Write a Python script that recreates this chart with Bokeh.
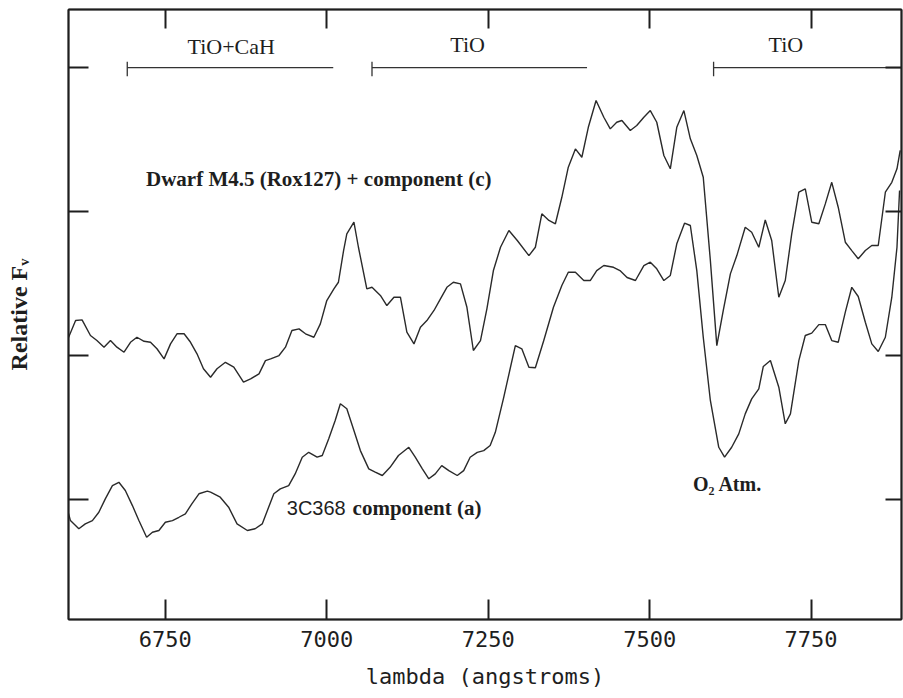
from bokeh.plotting import figure
from bokeh.models import LinearAxis, FixedTicker, Range1d, CustomLabelingPolicy
from bokeh.core.properties import value
from bokeh.embed import file_html
from bokeh.resources import INLINE

# ---- data (wavelength in angstroms, relative flux) ----
wl_c = [6600, 6611, 6621, 6634, 6644, 6655, 6665, 6675, 6686, 6696, 6706, 6717, 6727, 6737,
        6748, 6758, 6768, 6779, 6789, 6799, 6809, 6820, 6830, 6843, 6856, 6871, 6882, 6895,
        6905, 6913, 6926, 6936, 6946, 6957, 6967, 6980, 6990, 7000, 7011, 7018, 7026, 7031,
        7042, 7049, 7062, 7070, 7083, 7093, 7104, 7114, 7124, 7135, 7145, 7155, 7166, 7176,
        7186, 7196, 7207, 7217, 7227, 7238, 7248, 7258, 7269, 7282, 7295, 7313, 7323, 7333,
        7344, 7354, 7364, 7374, 7385, 7395, 7405, 7417, 7429, 7439, 7449, 7457, 7470, 7480,
        7491, 7501, 7511, 7522, 7532, 7542, 7553, 7563, 7573, 7583, 7594, 7604, 7614, 7625,
        7635, 7648, 7658, 7669, 7679, 7689, 7700, 7710, 7720, 7731, 7741, 7751, 7762, 7772,
        7782, 7792, 7803, 7813, 7823, 7834, 7844, 7854, 7865, 7875, 7883, 7888]
flux_c = [1.125, 1.243, 1.248, 1.139, 1.104, 1.058, 1.104, 1.058, 1.023, 1.092, 1.127, 1.099,
          1.092, 1.047, 0.977, 1.081, 1.151, 1.151, 1.092, 1.012, 0.908, 0.849, 0.908, 0.953,
          0.919, 0.815, 0.838, 0.873, 0.965, 0.977, 1.000, 1.058, 1.174, 1.185, 1.151, 1.127,
          1.220, 1.382, 1.463, 1.509, 1.729, 1.845, 1.926, 1.752, 1.463, 1.474, 1.417, 1.347,
          1.405, 1.405, 1.162, 1.081, 1.197, 1.243, 1.313, 1.394, 1.474, 1.509, 1.498, 1.335,
          1.035, 1.104, 1.326, 1.590, 1.752, 1.868, 1.799, 1.694, 1.752, 1.984, 1.938, 1.915,
          2.099, 2.308, 2.435, 2.377, 2.585, 2.771, 2.655, 2.574, 2.620, 2.632, 2.563, 2.597,
          2.655, 2.701, 2.620, 2.389, 2.297, 2.585, 2.701, 2.505, 2.389, 2.238, 1.660, 1.069,
          1.313, 1.567, 1.694, 1.891, 1.856, 1.752, 1.941, 1.799, 1.405, 1.521, 1.845, 2.134,
          2.158, 1.926, 1.915, 2.053, 2.203, 2.030, 1.787, 1.729, 1.672, 1.729, 1.764, 1.764,
          2.134, 2.203, 2.297, 2.424]

wl_a = [6600, 6603, 6616, 6626, 6637, 6647, 6657, 6668, 6678, 6688, 6699, 6709, 6721, 6730,
        6740, 6750, 6761, 6771, 6781, 6791, 6802, 6815, 6820, 6835, 6848, 6861, 6877, 6889,
        6900, 6908, 6918, 6928, 6941, 6951, 6962, 6972, 6985, 6993, 7003, 7013, 7021, 7031,
        7042, 7052, 7065, 7075, 7086, 7098, 7111, 7127, 7137, 7148, 7158, 7168, 7178, 7189,
        7202, 7212, 7222, 7233, 7243, 7253, 7261, 7274, 7292, 7302, 7313, 7323, 7336, 7351,
        7364, 7374, 7385, 7398, 7408, 7418, 7429, 7444, 7454, 7465, 7478, 7491, 7501, 7511,
        7522, 7532, 7542, 7554, 7563, 7573, 7583, 7594, 7607, 7616, 7627, 7638, 7648, 7658,
        7669, 7676, 7687, 7700, 7710, 7718, 7731, 7741, 7751, 7762, 7772, 7782, 7792, 7803,
        7813, 7823, 7834, 7844, 7854, 7865, 7875, 7883, 7887]
flux_a = [-0.097, -0.146, -0.203, -0.169, -0.146, -0.088, 0.005, 0.097, 0.120, 0.063, -0.042,
          -0.146, -0.262, -0.227, -0.215, -0.158, -0.146, -0.123, -0.099, -0.030, 0.040, 0.058,
          0.051, 0.016, -0.053, -0.169, -0.215, -0.203, -0.169, -0.076, 0.040, 0.074, 0.097,
          0.178, 0.294, 0.328, 0.294, 0.306, 0.422, 0.549, 0.665, 0.630, 0.479, 0.340, 0.213,
          0.190, 0.167, 0.224, 0.306, 0.363, 0.294, 0.213, 0.144, 0.178, 0.236, 0.201, 0.167,
          0.201, 0.294, 0.328, 0.340, 0.375, 0.467, 0.710, 1.069, 1.047, 0.919, 0.915, 1.104,
          1.335, 1.486, 1.578, 1.578, 1.521, 1.521, 1.590, 1.625, 1.613, 1.590, 1.542, 1.521,
          1.625, 1.648, 1.602, 1.521, 1.556, 1.776, 1.919, 1.903, 1.590, 1.127, 0.688, 0.363,
          0.294, 0.363, 0.456, 0.595, 0.699, 0.769, 0.924, 0.965, 0.780, 0.526, 0.595, 0.965,
          1.139, 1.156, 1.215, 1.215, 1.104, 1.092, 1.301, 1.474, 1.410, 1.231, 1.081, 1.028,
          1.127, 1.405, 1.752, 2.146]

x_ticks = [6750, 7000, 7250, 7500, 7750]
y_ticks = [0, 1, 2, 3]

band_names = ["TiO+CaH", "TiO", "TiO"]
band_start = [6691, 7070, 7599]
band_end = [7010, 7403, 7890]
band_level = [3.0, 3.0, 3.0]
band_label_x = [6852, 7218, 7711]
band_label_y = [3.145, 3.16, 3.16]

INK = "#1e1e1e"

p = figure(frame_width=833, frame_height=610,
           x_range=Range1d(6600, 7890), y_range=Range1d(-0.833, 3.403),
           output_backend="svg", toolbar_location=None,
           min_border_left=68, min_border_top=9, min_border_right=2, min_border_bottom=10,
           background_fill_color="white", border_fill_color="white")
p.grid.visible = False
p.outline_line_color = INK
p.outline_line_width = 1.5

# spectra
p.line(wl_c, flux_c, line_color="#2a2a2a", line_width=1.4)
p.line(wl_a, flux_a, line_color="#2a2a2a", line_width=1.4)

# band bars with left end caps
p.segment(x0=band_start, y0=band_level, x1=band_end, y1=band_level, line_color="#333333", line_width=1.3)
cap_lo = [v - 0.06 for v in band_level]
cap_hi = [v + 0.04 for v in band_level]
p.segment(x0=band_start, y0=cap_lo, x1=band_start, y1=cap_hi, line_color="#333333", line_width=1.3)
p.text(x=band_label_x, y=band_label_y, text=band_names, text_align="center", text_baseline="middle",
       text_font=value("Liberation Serif"), text_font_size="22px", text_color=INK)

# curve labels
p.text(x=[6720], y=[2.229], text=["Dwarf  M4.5  (Rox127)  +  component  (c)"],
       text_align="left", text_baseline="middle", text_font=value("Liberation Serif"),
       text_font_style="bold", text_font_size="21px", text_color=INK)
p.text(x=[6938], y=[-0.06], text=["3C368"], text_align="left", text_baseline="middle",
       text_font=value("Liberation Sans"), text_font_size="20px", text_color=INK)
p.text(x=[7040], y=[-0.06], text=["component  (a)"], text_align="left", text_baseline="middle",
       text_font=value("Liberation Serif"), text_font_style="bold", text_font_size="21px", text_color=INK)
p.text(x=[7567], y=[0.111], text=["O\u2082  Atm."], text_align="left", text_baseline="middle",
       text_font=value("Liberation Serif"), text_font_style="bold", text_font_size="20px", text_color=INK)

no_labels = CustomLabelingPolicy(code="""
const n = indices.size
for (let i = 0; i < n; i++) indices.unset(i)
return indices
""")

# axes
def style(ax, tick_in):
    ax.axis_line_color = INK
    ax.axis_line_width = 2
    ax.major_tick_line_color = INK
    ax.major_tick_line_width = 2
    ax.major_tick_in = tick_in
    ax.major_tick_out = 0
    ax.minor_tick_line_color = None

def hide_labels(ax):
    ax.major_label_policy = no_labels
    ax.major_label_text_font_size = "1px"
    ax.major_label_standoff = 0

xb = p.xaxis[0]
xb.ticker = FixedTicker(ticks=x_ticks)
style(xb, 20)
xb.major_label_text_font = "DejaVu Sans Mono"
xb.major_label_text_font_size = "22px"
xb.major_label_text_color = INK
xb.major_label_standoff = 11
xb.axis_label = "lambda (angstroms)"
xb.axis_label_text_font = "DejaVu Sans Mono"
xb.axis_label_text_font_style = "normal"
xb.axis_label_text_font_size = "22px"
xb.axis_label_text_color = INK
xb.axis_label_standoff = 14

yl = p.yaxis[0]
yl.ticker = FixedTicker(ticks=y_ticks)
style(yl, 20)
hide_labels(yl)
yl.axis_label = "Relative F\u1d65"
yl.axis_label_text_font = "Liberation Serif"
yl.axis_label_text_font_style = "bold"
yl.axis_label_text_font_size = "24px"
yl.axis_label_text_color = INK
yl.axis_label_standoff = 33

xt = LinearAxis(ticker=FixedTicker(ticks=x_ticks))
style(xt, 19)
hide_labels(xt)
p.add_layout(xt, "above")

yr = LinearAxis(ticker=FixedTicker(ticks=y_ticks))
style(yr, 16)
hide_labels(yr)
p.add_layout(yr, "right")

open("out.html", "w").write(file_html(p, INLINE))
